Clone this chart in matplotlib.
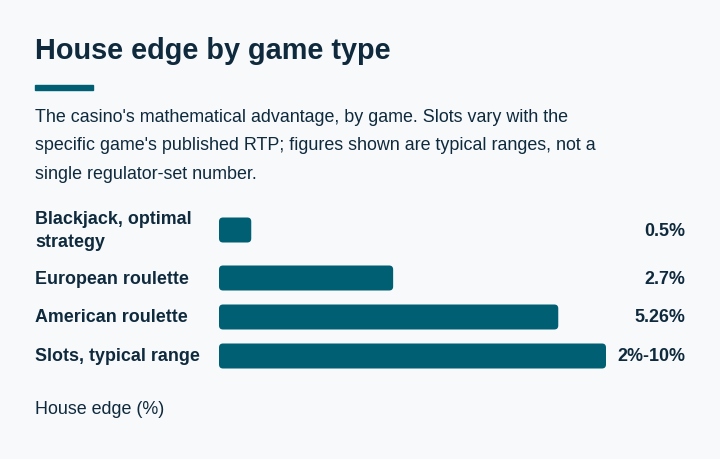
import matplotlib
matplotlib.use("Agg")
import matplotlib.pyplot as plt
from matplotlib.patches import FancyBboxPatch
import matplotlib.transforms as mtransforms
import numpy as np

plt.rcParams['font.family'] = ['Liberation Sans', 'DejaVu Sans']

# data
games = ["Blackjack, optimal\nstrategy", "European roulette", "American roulette", "Slots, typical range"]
house_edge = [0.5, 2.7, 5.26, 6.0]   # slots drawn at the middle of its range
value_labels = ["0.5%", "2.7%", "5.26%", "2%-10%"]

title = "House edge by game type"
subtitle = ("The casino's mathematical advantage, by game. Slots vary with the\n"
            "specific game's published RTP; figures shown are typical ranges, not a\n"
            "single regulator-set number.")
xlabel = "House edge (%)"

bg = "#f7f9fb"
ink = "#0f2a3d"
bar_col = "#005f73"

W, H = 720, 460
fig = plt.figure(figsize=(7.2, 4.6), dpi=100, facecolor=bg)

# header
fig.text(35 / W, 1 - 51 / H, title, fontsize=20.8, fontweight="bold", color=ink, va="center", ha="left")
fig.patches.append(FancyBboxPatch((35 / W, 1 - 91 / H), 58 / W, 5 / H, boxstyle="square,pad=0",
                                  transform=fig.transFigure, color=bar_col, figure=fig))
fig.text(35 / W, 1 - 146 / H, subtitle, fontsize=12.9, color=ink, va="center", ha="left", linespacing=1.85)

# row layout: each row is taller when its label wraps
line_px = 18
base_row = 39
row_h = np.array([base_row + line_px * (g.count("\n")) for g in games], dtype=float)
centers = np.cumsum(row_h) - row_h / 2
total = row_h.sum()

top_px = 202.5
ax_left, ax_right = 219, 606
ax = fig.add_axes([ax_left / W, 1 - (top_px + total) / H, (ax_right - ax_left) / W, total / H])
ax.set_facecolor("none")
ax.set_xlim(0, 6)
ax.set_ylim(total, 0)
ax.axis("off")

bar_h = 25
px_per_x = (ax_right - ax_left) / 6.0
for yc, v in zip(centers, house_edge):
    # rounding given in x-data units (4px), mutation_aspect stretches it for y
    p = FancyBboxPatch((0, yc - bar_h / 2), v, bar_h,
                       boxstyle="round,pad=0,rounding_size=%f" % (4 / px_per_x),
                       mutation_aspect=px_per_x,
                       linewidth=0, facecolor=bar_col)
    ax.add_patch(p)

lab_tr = mtransforms.blended_transform_factory(fig.transFigure, ax.transData)
for yc, g, lab in zip(centers, games, value_labels):
    ax.text(35 / W, yc, g, transform=lab_tr, fontsize=12.9, fontweight="bold", color=ink,
            ha="left", va="center", linespacing=1.45)
    ax.text(685 / W, yc, lab, transform=lab_tr, fontsize=12.9, fontweight="bold", color=ink,
            ha="right", va="center")

fig.text(35 / W, 1 - 410 / H, xlabel, fontsize=12.9, color=ink, ha="left", va="center")

fig.savefig("out.png", dpi=100, facecolor=bg)
